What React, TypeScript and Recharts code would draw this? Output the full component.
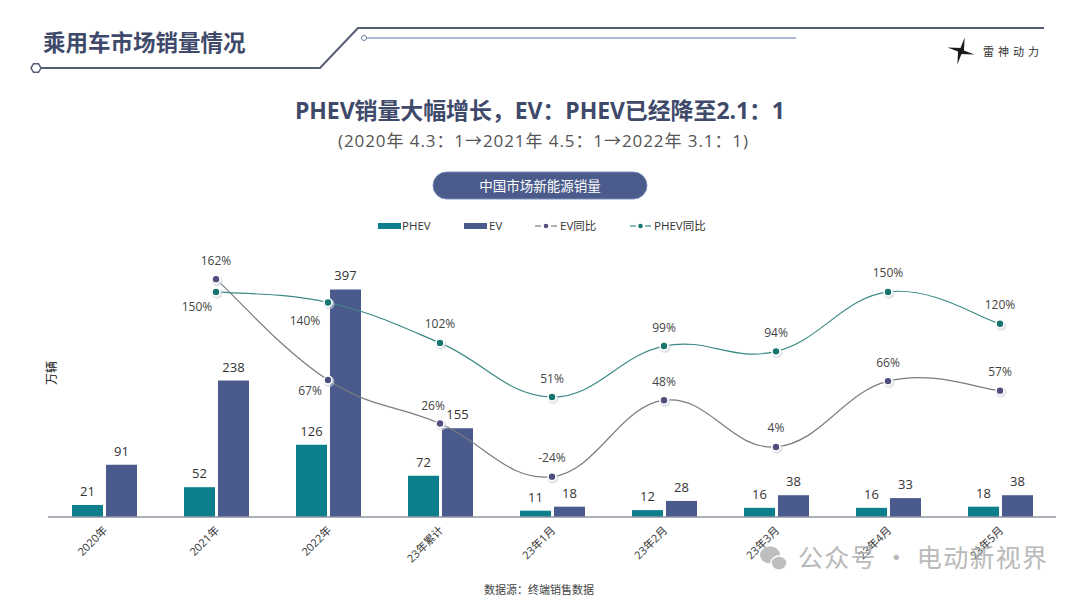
import React from 'react';
import { ComposedChart, Bar, Line, XAxis, YAxis, LabelList } from 'recharts';

// ---------- data ----------
const categories = ['2020年', '2021年', '2022年', '23年累计', '23年1月', '23年2月', '23年3月', '23年4月', '23年5月'];
const phevSales = [21, 52, 126, 72, 11, 12, 16, 16, 18];
const evSales = [91, 238, 397, 155, 18, 28, 38, 33, 38];
const evYoY: (number | null)[] = [null, 162, 67, 26, -24, 48, 4, 66, 57];
const phevYoY: (number | null)[] = [null, 150, 140, 102, 51, 99, 94, 150, 120];

const data = categories.map((cat, i) => ({
  cat,
  phev: phevSales[i],
  ev: evSales[i],
  evYoY: evYoY[i],
  phevYoY: phevYoY[i],
}));

// ---------- styles ----------
const FONT = '"Open Sans", "Noto Sans CJK SC", sans-serif';
const PHEV_BAR = '#0c7f8d';
const EV_BAR = '#4b5a8d';
const EV_LINE = '#7c7c80';
const EV_DOT = '#4f4f7e';
const PHEV_LINE = '#3c8a84';
const PHEV_DOT = '#16766f';

// label placement (offsets relative to the point)
const DEFAULT_SHIFT: [number, number] = [0, -14.5];
const phevLabelShift: Record<number, [number, number]> = { 1: [-19, 19], 2: [-23, 22] };
const evLabelShift: Record<number, [number, number]> = { 2: [-18, 15], 3: [-7, -13.5] };

// smooth curve (cardinal-like bezier, with slight overshoot)
function smoothCurve(context: any) {
  let pts: number[][] = [];
  return {
    areaStart() {},
    areaEnd() {},
    lineStart() {
      pts = [];
    },
    point(x: number, y: number) {
      pts.push([+x, +y]);
    },
    lineEnd() {
      const n = pts.length;
      if (!n) return;
      context.moveTo(pts[0][0], pts[0][1]);
      const s = 0.2;
      for (let i = 0; i < n - 1; i++) {
        const p0 = pts[Math.max(i - 1, 0)];
        const p1 = pts[i];
        const p2 = pts[i + 1];
        const p3 = pts[Math.min(i + 2, n - 1)];
        const c1x = p1[0] + (p2[0] - p0[0]) * s;
        const c1y = p1[1] + (p2[1] - p0[1]) * s;
        const c2x = p2[0] - (p3[0] - p1[0]) * s;
        const c2y = p2[1] - (p3[1] - p1[1]) * s;
        context.bezierCurveTo(c1x, c1y, c2x, c2y, p2[0], p2[1]);
      }
    },
  };
}

const makeDot = (fill: string) => (props: any) => {
  const { cx, cy, index, value } = props;
  if (cx == null || cy == null || value == null || Number.isNaN(cy)) return <g key={`dot-${index}`} />;
  return (
    <g key={`dot-${index}`}>
      <circle cx={cx + 1} cy={cy + 1.5} r={5.5} fill="#cfd6e0" opacity={0.6} />
      <circle cx={cx} cy={cy} r={4} fill={fill} stroke="#ffffff" strokeWidth={1.6} />
    </g>
  );
};

const makeLineLabel = (shifts: Record<number, [number, number]>) => (props: any) => {
  const { value, index } = props;
  const x = props.x ?? props.viewBox?.x;
  const y = props.y ?? props.viewBox?.y;
  if (value == null || x == null || y == null) return null;
  const [dx, dy] = shifts[index] ?? DEFAULT_SHIFT;
  return (
    <text x={x + dx} y={y + dy} textAnchor="middle" fontSize={12} fill="#444" fontFamily={FONT}>
      {`${value}%`}
    </text>
  );
};

const barLabel = (props: any) => {
  const { x, y, width, value } = props;
  if (value == null) return null;
  return (
    <text x={x + width / 2} y={y - 9} textAnchor="middle" fontSize={13} fill="#333" fontFamily={FONT}>
      {value}
    </text>
  );
};

const XTick = (props: any) => {
  const { x, y, payload } = props;
  return (
    <text
      transform={`translate(${x + 4},${y + 14}) rotate(-45)`}
      textAnchor="end"
      fontSize={11}
      fill="#333"
      fontFamily={FONT}
    >
      {payload.value}
    </text>
  );
};

function Hexagon({ cx, cy, r }: { cx: number; cy: number; r: number }) {
  const pts = [0, 1, 2, 3, 4, 5]
    .map((k) => {
      const a = (Math.PI / 3) * k;
      return `${cx + r * Math.cos(a)},${cy + r * Math.sin(a)}`;
    })
    .join(' ');
  return <polygon points={pts} fill="#fff" stroke="#555d70" strokeWidth={1.5} />;
}

function Logo({ cx, cy }: { cx: number; cy: number }) {
  const blades = [-75, 15, 105, 195];
  return (
    <g>
      {blades.map((deg, i) => {
        const a = (deg * Math.PI) / 180;
        const tipX = cx + 14 * Math.cos(a);
        const tipY = cy + 14 * Math.sin(a);
        const p = a + Math.PI / 2;
        const b1x = cx + 3 * Math.cos(p);
        const b1y = cy + 3 * Math.sin(p);
        const b2x = cx - 1.5 * Math.cos(p);
        const b2y = cy - 1.5 * Math.sin(p);
        return <polygon key={i} points={`${b1x},${b1y} ${tipX},${tipY} ${b2x},${b2y}`} fill="#1a1a1a" />;
      })}
      <circle cx={cx} cy={cy} r={2.2} fill="#1a1a1a" />
    </g>
  );
}

export default function App() {
  return (
    <div
      style={{
        position: 'absolute',
        left: 0,
        top: 0,
        width: 1080,
        height: 608,
        background: '#ffffff',
        fontFamily: FONT,
        overflow: 'hidden',
      }}
    >
      <div style={{ position: 'absolute', left: 0, top: 0 }}>
        <ComposedChart
          width={1080}
          height={608}
          data={data}
          margin={{ top: 259, right: 24, bottom: 0, left: 48 }}
          barSize={31}
          barGap={3}
        >
          <XAxis
            dataKey="cat"
            interval={0}
            height={91}
            tickSize={0}
            tickMargin={0}
            tickLine={false}
            axisLine={{ stroke: '#8e94a0', strokeWidth: 1.5 }}
            tick={<XTick />}
          />
          <YAxis yAxisId="left" hide domain={[0, 450]} />
          <YAxis yAxisId="right" hide orientation="right" domain={[-62, 181]} />
          <Bar yAxisId="left" dataKey="phev" fill={PHEV_BAR} isAnimationActive={false}>
            <LabelList dataKey="phev" content={barLabel} />
          </Bar>
          <Bar yAxisId="left" dataKey="ev" fill={EV_BAR} isAnimationActive={false}>
            <LabelList dataKey="ev" content={barLabel} />
          </Bar>
          <Line
            yAxisId="right"
            dataKey="evYoY"
            type={smoothCurve as any}
            stroke={EV_LINE}
            strokeWidth={1.2}
            dot={makeDot(EV_DOT)}
            activeDot={false}
            isAnimationActive={false}
          >
            <LabelList dataKey="evYoY" content={makeLineLabel(evLabelShift)} />
          </Line>
          <Line
            yAxisId="right"
            dataKey="phevYoY"
            type={smoothCurve as any}
            stroke={PHEV_LINE}
            strokeWidth={1.2}
            dot={makeDot(PHEV_DOT)}
            activeDot={false}
            isAnimationActive={false}
          >
            <LabelList dataKey="phevYoY" content={makeLineLabel(phevLabelShift)} />
          </Line>
        </ComposedChart>
      </div>

      <svg
        width={1080}
        height={608}
        style={{ position: 'absolute', left: 0, top: 0, pointerEvents: 'none' }}
        fontFamily={FONT}
      >
        {/* header */}
        <text x={43} y={50.5} fontSize={22.5} fontWeight={700} fill="#3f4a6b" fontFamily='"Noto Sans CJK SC", sans-serif'>
          乘用车市场销量情况
        </text>
        <polyline points="41,68 320,68 358,28 1044,28" fill="none" stroke="#555d70" strokeWidth={2} />
        <Hexagon cx={36} cy={68} r={5} />
        <line x1={367} y1={38} x2={796} y2={38} stroke="#5a74a8" strokeWidth={1.2} />
        <circle cx={364} cy={38} r={2.5} fill="#fff" stroke="#6a7fa8" strokeWidth={1} />
        <Logo cx={961} cy={51} />
        <text x={983} y={56} fontSize={11} letterSpacing={4} fill="#333" fontFamily='"Noto Sans CJK SC", sans-serif'>
          雷神动力
        </text>

        {/* titles */}
        <text x={540} y={119} textAnchor="middle" fontSize={23} fontWeight={700} fill="#3f4a6b" textLength={490} lengthAdjust="spacing">
          PHEV销量大幅增长，EV：PHEV已经降至2.1：1
        </text>
        <text x={543} y={147} textAnchor="middle" fontSize={17} fill="#555" textLength={410} lengthAdjust="spacing">
          (2020年 4.3：1→2021年 4.5：1→2022年 3.1：1)
        </text>

        {/* pill */}
        <rect x={433} y={172} width={214} height={27} rx={13.5} fill="#4b5b8b" stroke="#7d8fbd" strokeWidth={1} />
        <text x={540} y={190.5} textAnchor="middle" fontSize={13.5} fill="#fff">
          中国市场新能源销量
        </text>

        {/* legend */}
        <rect x={378} y={223} width={23} height={6} fill={PHEV_BAR} />
        <text x={402} y={230} fontSize={11.5} fill="#333">PHEV</text>
        <rect x={464} y={223} width={23} height={6} fill={EV_BAR} />
        <text x={489} y={230} fontSize={11.5} fill="#333">EV</text>
        <line x1={535} y1={226} x2={541} y2={226} stroke={EV_LINE} strokeWidth={1.2} />
        <line x1={551} y1={226} x2={557} y2={226} stroke={EV_LINE} strokeWidth={1.2} />
        <circle cx={546} cy={226} r={2.3} fill={EV_DOT} />
        <text x={560} y={230} fontSize={11.5} fill="#333">EV同比</text>
        <line x1={630} y1={226} x2={636} y2={226} stroke={PHEV_LINE} strokeWidth={1.2} />
        <line x1={645} y1={226} x2={651} y2={226} stroke={PHEV_LINE} strokeWidth={1.2} />
        <circle cx={640.5} cy={226} r={2.3} fill={PHEV_DOT} />
        <text x={654} y={230} fontSize={11.5} fill="#333">PHEV同比</text>

        {/* y axis title */}
        <text transform="translate(56,373) rotate(-90)" textAnchor="middle" fontSize={12} fill="#222">
          万辆
        </text>

        {/* source */}
        <text x={484} y={594} fontSize={11} fill="#444">
          数据源：终端销售数据
        </text>

        {/* watermark */}
        <g opacity={0.85}>
          <ellipse cx={770} cy={555} rx={10} ry={8.5} fill="#b3b3b3" />
          <ellipse cx={779} cy={563} rx={8} ry={7} fill="#b3b3b3" stroke="#fff" strokeWidth={1.5} />
          <text x={798} y={567} fontSize={25} fill="#adadad" textLength={249} lengthAdjust="spacing" fontFamily='"Noto Sans CJK SC", sans-serif'>
            公众号 · 电动新视界
          </text>
        </g>
      </svg>
    </div>
  );
}
